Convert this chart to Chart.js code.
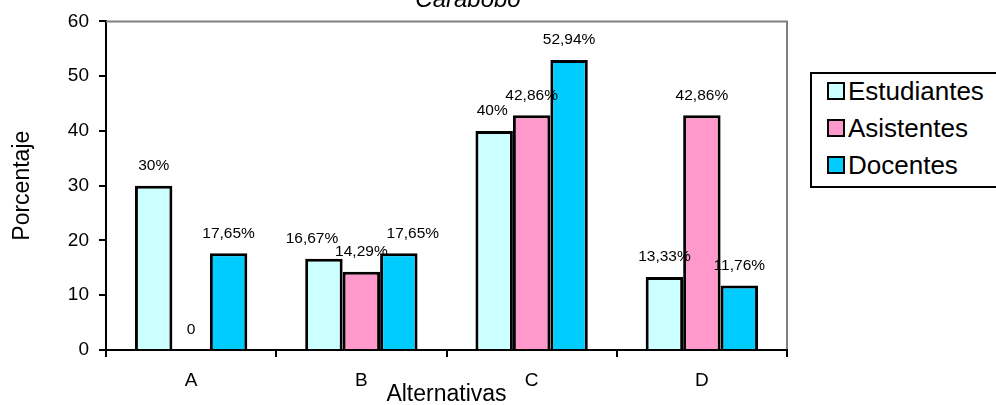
<!DOCTYPE html>
<html>
<head>
<meta charset="utf-8">
<script src="https://cdn.jsdelivr.net/npm/chart.js@4/dist/chart.umd.min.js"></script>
<style>
  html, body { margin: 0; padding: 0; background: #fff; }
  #wrap { position: relative; width: 996px; height: 405px; overflow: hidden; }
  #legend {
    position: absolute; left: 810px; top: 72px; width: 190px; height: 112px;
    border: 2px solid #000; background: #fff;
    font-family: "Liberation Sans", Arial, sans-serif; font-size: 26px; color: #000;
    box-sizing: content-box;
  }
  #legend .item { position: absolute; left: 15px; height: 30px; line-height: 30px; white-space: nowrap; }
  #legend .sw { display: inline-block; width: 14px; height: 14px; border: 2px solid #000; vertical-align: middle; margin-right: 3px; position: relative; top: -2px; }
</style>
</head>
<body>
<div id="wrap">
  <canvas id="c" width="996" height="405"></canvas>
  <div id="legend"></div>
</div>
<script>
// Categories and series (percentages)
const categories = ['A', 'B', 'C', 'D'];
const seriesNames = ['Estudiantes', 'Asistentes', 'Docentes'];
const estudiantes = [30, 16.67, 40, 13.33];
const asistentes = [0, 14.29, 42.86, 42.86];
const docentes = [17.65, 17.65, 52.94, 11.76];
const yTicks = [0, 10, 20, 30, 40, 50, 60];

const colors = ['#CCFFFF', '#FF99CC', '#00CCFF'];
const FONT = '"Liberation Sans", Arial, sans-serif';

// Value labels are written with a decimal comma, zero shown bare
function fmt(v) {
  if (v === 0) return '0';
  return String(v).replace('.', ',') + '%';
}

// Horizontal nudges for labels that would collide inside a group
const labelNudge = [
  [0, 0, 0],
  [-12, 0, 14],
  [-2, 0, 0],
  [0, 0, 0]
];

const valueLabels = {
  id: 'valueLabels',
  afterDatasetsDraw(chart) {
    const ctx = chart.ctx;
    ctx.save();
    ctx.font = '15.5px ' + FONT;
    ctx.fillStyle = '#000';
    ctx.textAlign = 'center';
    ctx.textBaseline = 'middle';
    chart.data.datasets.forEach((ds, di) => {
      const meta = chart.getDatasetMeta(di);
      meta.data.forEach((bar, i) => {
        const v = ds.data[i];
        ctx.fillText(fmt(v), bar.x + labelNudge[i][di], bar.y - 20);
      });
    });
    ctx.restore();
  }
};

// Grey frame on the top and right of the plot area, plus the italic title
const frameAndTitle = {
  id: 'frameAndTitle',
  beforeDatasetsDraw(chart) {
    const { ctx, chartArea: a } = chart;
    ctx.save();
    ctx.strokeStyle = '#808080';
    ctx.lineWidth = 2;
    ctx.beginPath();
    ctx.moveTo(a.left, a.top);
    ctx.lineTo(a.right, a.top);
    ctx.lineTo(a.right, a.bottom);
    ctx.stroke();
    ctx.restore();
  },
  afterDraw(chart) {
    const ctx = chart.ctx;
    ctx.save();
    ctx.font = 'italic 24px ' + FONT;
    ctx.fillStyle = '#000';
    ctx.textAlign = 'center';
    ctx.textBaseline = 'alphabetic';
    ctx.fillText('Carabobo', 468, 7);
    ctx.restore();
  }
};

const seriesData = [estudiantes, asistentes, docentes];

new Chart(document.getElementById('c'), {
  type: 'bar',
  data: {
    labels: categories,
    datasets: seriesNames.map((name, k) => ({
      label: name,
      data: seriesData[k],
      backgroundColor: colors[k],
      borderColor: '#000',
      borderWidth: 3,
      borderSkipped: 'start',
      categoryPercentage: 0.66,
      barPercentage: 1.0
    }))
  },
  options: {
    responsive: false,
    animation: false,
    layout: { padding: { top: 18, right: 209, bottom: 0, left: 0 } },
    plugins: {
      legend: { display: false },
      title: { display: false },
      tooltip: { enabled: false }
    },
    scales: {
      x: {
        grid: { drawOnChartArea: false, drawTicks: true, tickLength: 7, color: '#000', lineWidth: 2, offset: true },
        border: { color: '#000', width: 2, z: 1 },
        ticks: { color: '#000', font: { family: FONT, size: 19 }, padding: 12 },
        title: { display: true, text: 'Alternativas', color: '#000', font: { family: FONT, size: 23, lineHeight: 1 }, padding: { top: 0, bottom: -1 } },
        afterFit(scale) { scale.height = 55; }
      },
      y: {
        min: 0, max: 60,
        afterBuildTicks(scale) { scale.ticks = yTicks.map(v => ({ value: v })); },
        grid: { drawOnChartArea: false, drawTicks: true, tickLength: 7, color: '#000', lineWidth: 2 },
        border: { color: '#000', width: 2 },
        ticks: { color: '#000', font: { family: FONT, size: 19 }, padding: 10 },
        title: { display: true, text: 'Porcentaje', color: '#000', font: { family: FONT, size: 23, lineHeight: 1 }, padding: { top: 11, bottom: 0 } },
        afterFit(scale) { scale.width = 106; }
      }
    }
  },
  plugins: [frameAndTitle, valueLabels]
});

// Legend box
const legend = document.getElementById('legend');
seriesNames.forEach((name, k) => {
  const row = document.createElement('div');
  row.className = 'item';
  row.style.top = (2 + k * 37) + 'px';
  const sw = document.createElement('span');
  sw.className = 'sw';
  sw.style.background = colors[k];
  row.appendChild(sw);
  row.appendChild(document.createTextNode(name));
  legend.appendChild(row);
});
</script>
</body>
</html>
